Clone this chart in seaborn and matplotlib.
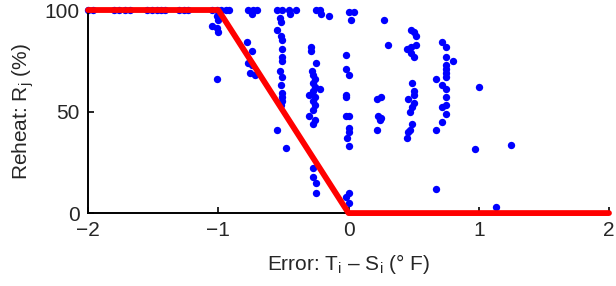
import numpy as np
import pandas as pd
import matplotlib
matplotlib.use("Agg")
import matplotlib.pyplot as plt
import seaborn as sns

# scatter points: error (deg F) vs reheat (%)
top_x = [-2.0, -1.96, -1.80, -1.76, -1.72, -1.68, -1.55, -1.51, -1.47, -1.44, -1.41,
         -1.30, -1.26, -1.23, -1.05, -1.01, -0.98, -0.94, -0.92, -0.77, -0.73, -0.70,
         -0.55, -0.51, -0.46, -0.40, -0.25, -0.22]
top_y = [100] * len(top_x)

col_a_x = [-1.01, -1.00, -1.05, -1.01, -1.00, -1.01]
col_a_y = [97, 95, 92, 91, 89, 66]

col_b_x = [-0.745, -0.78, -0.74, -0.77, -0.74, -0.76, -0.72]
col_b_y = [98, 84, 80, 74, 73, 69, 68]

col_c_x = [-0.45, -0.53, -0.52, -0.55, -0.52, -0.51, -0.51, -0.51, -0.51, -0.53, -0.51,
           -0.52, -0.51, -0.51, -0.51, -0.52, -0.55, -0.48]
col_c_y = [98, 96, 94, 90, 87, 85, 81, 77, 75, 70, 67, 63, 59, 57, 55, 53, 41, 32]

col_d_x = [-0.15, -0.21, -0.29, -0.29, -0.25, -0.28, -0.27, -0.26, -0.27, -0.26, -0.22,
           -0.27, -0.30, -0.26, -0.27, -0.26, -0.27, -0.30, -0.26, -0.27, -0.27, -0.27,
           -0.25, -0.25]
col_d_y = [97, 98, 82, 80, 74, 70, 68, 66, 64, 62, 61, 60, 58, 57, 55, 53, 51, 48, 46,
           44, 22, 18, 15, 10]

col_e_x = [0.00, 0.04, 0.02, -0.02, -0.02, 0.00, -0.02, -0.02, -0.02, 0.00, 0.00, 0.00,
           -0.01, 0.00, 0.00, -0.02, 0.00]
col_e_y = [99, 99, 95, 78, 71, 68, 58, 57, 48, 48, 42, 40, 37, 33, 10, 8, 5]

col_f_x = [0.27, 0.30, 0.22, 0.25, 0.23, 0.25, 0.24, 0.22]
col_f_y = [95, 83, 56, 57, 48, 47, 46, 41]

col_g_x = [0.48, 0.50, 0.52, 0.45, 0.52, 0.48, 0.48, 0.50, 0.49, 0.50, 0.50, 0.46, 0.50,
           0.49, 0.47, 0.49, 0.47, 0.46, 0.45]
col_g_y = [90, 89, 87, 81, 83, 82, 79, 77, 64, 60, 58, 56, 54, 52, 50, 44, 41, 40, 37]

col_h_x = [0.72, 0.75, 0.75, 0.80, 0.75, 0.75, 0.75, 0.75, 0.67, 0.72, 0.75, 0.75, 0.75,
           0.72, 0.75, 0.72, 0.67, 0.67]
col_h_y = [84, 82, 77, 75, 73, 71, 69, 67, 66, 63, 61, 57, 53, 52, 49, 45, 41, 12]

single_x = [1.00, 0.975, 1.25, 1.13]
single_y = [62, 31.5, 33.5, 3]

# reheat control law (red line)
law_x = [-2, -1, 0, 2]
law_y = [100, 100, 0, 0]

xticks = [-2, -1, 0, 1, 2]
yticks = [0, 50, 100]

sns.set_style("ticks")
plt.rcParams['font.family'] = ['Liberation Sans', 'DejaVu Sans']
plt.rcParams['mathtext.fontset'] = 'custom'
plt.rcParams['mathtext.rm'] = 'Liberation Sans'

pts = pd.DataFrame({
    'err': top_x + col_a_x + col_b_x + col_c_x + col_d_x + col_e_x + col_f_x
           + col_g_x + col_h_x + single_x,
    'reheat': top_y + col_a_y + col_b_y + col_c_y + col_d_y + col_e_y + col_f_y
              + col_g_y + col_h_y + single_y,
})
law = pd.DataFrame({'err': law_x, 'reheat': law_y})

fig = plt.figure(figsize=(6.16, 2.86), dpi=100)
ax = fig.add_axes([0.143, 0.255, 0.8456, 0.71])

sns.scatterplot(data=pts, x='err', y='reheat', ax=ax, color='#0000ff', s=28,
                linewidth=0, clip_on=False, zorder=2)
sns.lineplot(data=law, x='err', y='reheat', ax=ax, color='#ff0000', linewidth=4.2,
             zorder=3, clip_on=False)

ax.set_xlim(-2, 2)
ax.set_ylim(0, 100)
ax.set_xticks(xticks)
ax.set_yticks(yticks)
ax.tick_params(direction='in', length=4, width=1.2, labelsize=15, pad=6, color='black')
for side in ['left', 'bottom']:
    ax.spines[side].set_linewidth(1.4)
    ax.spines[side].set_color('black')
ax.spines['top'].set_visible(False)
ax.spines['right'].set_visible(False)

ax.set_xlabel(r'Error: $\mathregular{T_i}$ – $\mathregular{S_i}$ (° F)', fontsize=15, labelpad=8)
ax.set_ylabel(r'Reheat: $\mathregular{R_j}$ (%)', fontsize=15, labelpad=6)

fig.savefig('out.png', dpi=100)
